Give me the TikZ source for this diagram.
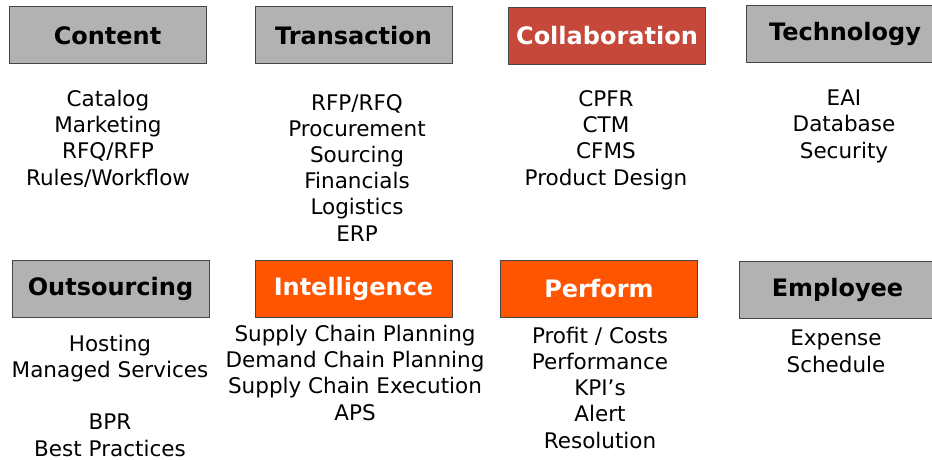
\documentclass[tikz,border=0pt]{standalone}
\usepackage{fontspec}
\setmainfont{DejaVu Sans}
\definecolor{boxgray}{RGB}{178,178,178}
\definecolor{collab}{RGB}{198,72,58}
\definecolor{orng}{RGB}{255,85,0}
\definecolor{edge}{RGB}{70,70,70}
\begin{document}
\begin{tikzpicture}[x=1pt,y=-1pt,
  hdr/.style={draw=edge, line width=1pt, minimum width=197pt, minimum height=57pt,
    inner sep=0pt, font=\fontsize{24}{28}\selectfont\bfseries},
  grayhdr/.style={hdr, fill=boxgray, text=black},
  redhdr/.style={hdr, fill=collab, text=white},
  orghdr/.style={hdr, fill=orng, text=white},
  items/.style={align=center, anchor=base, inner sep=0pt,
    font=\fontsize{21.5}{26.2}\selectfont}]
\useasboundingbox (0,0) rectangle (932,460);
% headers
\node[grayhdr] (content) at (107.5,35.5) {Content};
\node[grayhdr] (transaction) at (353.5,35.5) {Transaction};
\node[redhdr] (collaboration) at (607,36) {Collaboration};
\node[grayhdr] (technology) at (845,34) {Technology};
\node[grayhdr] (outsourcing) at (110.5,289) {Outsourcing};
\node[orghdr] (intelligence) at (353.5,289) {Intelligence};
\node[orghdr] (perform) at (599,289) {Perform};
\node[grayhdr] (employee) at (837.5,290) {Employee};
% items (anchor = baseline of last line)
\node[items] (contentitems) at (108,185) {Catalog\\Marketing\\RFQ/RFP\\Rules/Workflow};
\node[items] (transitems) at (357,241) {RFP/RFQ\\Procurement\\Sourcing\\Financials\\Logistics\\ERP};
\node[items] (collabitems) at (606,185) {CPFR\\CTM\\CFMS\\Product Design};
\node[items] (techitems) at (844,158) {EAI\\Database\\Security};
\node[items] (outitems) at (110,456) {Hosting\\Managed Services\\[26.2pt]BPR\\Best Practices};
\node[items] (intitems) at (355,420) {Supply Chain Planning\\Demand Chain Planning\\Supply Chain Execution\\APS};
\node[items] (perfitems) at (600,448) {Profit / Costs\\Performance\\KPI’s\\Alert\\Resolution};
\node[items] (empitems) at (836,372) {Expense\\Schedule};
\end{tikzpicture}
\end{document}
